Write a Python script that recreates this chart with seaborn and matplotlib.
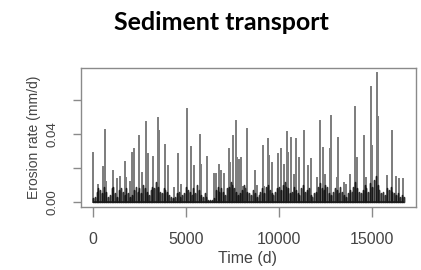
import pandas as pd
import matplotlib
matplotlib.use("Agg")
import matplotlib.pyplot as plt
import seaborn as sns

# main erosion events: (time in days, erosion rate in mm/d)
event_days = [0, 300, 537, 660, 720, 1060, 1320, 1466, 1700, 1760,
              2000, 2094, 2218, 2503, 2660, 2846, 2980, 3254, 3490, 3560,
              3882, 4060, 4340, 4564, 4740, 5047, 5262, 5440, 5762, 5800,
              6120, 6514, 6600, 6766, 6900, 7020, 7337, 7380, 7552, 7680,
              7720, 7874, 7980, 8050, 8270, 8300, 8715, 8800, 9129, 9220,
              9430, 9460, 9645, 9967, 10110, 10280, 10450, 10470, 10650, 10800,
              10917, 11080, 11364, 11550, 11707, 12020, 12206, 12340, 12450, 12760,
              12780, 13100, 13190, 13500, 13600, 13820, 14085, 14210, 14570, 14650,
              14945, 15010, 15283, 15320, 15790, 16060, 16100, 16270, 16465, 16650]
event_rates = [0.029, 0.0098, 0.0208, 0.0424, 0.012, 0.018, 0.0133, 0.0145, 0.0235, 0.014,
               0.012, 0.029, 0.0314, 0.0388, 0.017, 0.0473, 0.028, 0.0267, 0.0496, 0.042,
               0.0337, 0.021, 0.008, 0.028, 0.010, 0.0549, 0.0326, 0.021, 0.0398, 0.022,
               0.0267, 0.0163, 0.0165, 0.0216, 0.018, 0.0165, 0.031, 0.023, 0.0388, 0.0476,
               0.026, 0.025, 0.026, 0.009, 0.043, 0.035, 0.018, 0.0095, 0.0333, 0.009,
               0.0373, 0.027, 0.023, 0.0285, 0.0314, 0.022, 0.0412, 0.029, 0.0379, 0.016,
               0.0369, 0.026, 0.0418, 0.021, 0.0255, 0.014, 0.0476, 0.032, 0.016, 0.031,
               0.0506, 0.014, 0.0379, 0.011, 0.010, 0.0157, 0.0559, 0.026, 0.0388, 0.014,
               0.0682, 0.033, 0.0761, 0.050, 0.0155, 0.0418, 0.026, 0.0145, 0.0135, 0.0133]

# background erosion, one reading every 100 days (x 0.001 mm/d)
band_step = 100
band_levels = [2, 3, 6, 8, 7, 5, 9, 6, 3, 4,
               8, 9, 5, 3, 7, 8, 6, 4, 8, 5,
               3, 4, 7, 9, 6, 8, 5, 10, 8, 6,
               4, 7, 9, 8, 12, 9, 6, 5, 8, 7,
               6, 4, 3, 2, 3, 5, 6, 3, 4, 5,
               9, 7, 6, 4, 8, 5, 10, 7, 4, 3,
               5, 3, 1, 1, 1, 2, 7, 9, 6, 8,
               6, 4, 8, 9, 12, 10, 8, 6, 4, 5,
               7, 10, 8, 6, 5, 4, 7, 5, 3, 4,
               6, 8, 5, 9, 10, 7, 5, 4, 6, 8,
               9, 7, 10, 12, 9, 8, 5, 6, 9, 7,
               5, 4, 8, 10, 6, 7, 8, 4, 3, 5,
               6, 9, 11, 8, 7, 10, 9, 5, 4, 6,
               8, 7, 5, 9, 6, 4, 3, 5, 7, 6,
               9, 12, 8, 6, 5, 7, 10, 8, 6, 11,
               9, 13, 15, 10, 7, 5, 6, 4, 8, 7,
               9, 6, 5, 4, 5, 3, 4, 3]


def spikes(days, rates):
    # each reading drawn as a spike rising from zero, like a daily hydrograph
    rows = []
    for d, r in zip(days, rates):
        rows += [(d, 0.0), (d, r), (d, 0.0)]
    return pd.DataFrame(rows, columns=["time", "rate"])


events = spikes(event_days, event_rates)
band = spikes([i * band_step for i in range(len(band_levels))],
              [v * 0.001 for v in band_levels])

sns.set_style("white")
plt.rcParams["font.family"] = ["Liberation Sans", "DejaVu Sans"]

fig = plt.figure(figsize=(4.21, 2.70), dpi=100)
ax = fig.add_axes([80.5 / 421, 1 - 207 / 270, 335 / 421, 139 / 270])

sns.lineplot(data=band, x="time", y="rate", ax=ax, color="black",
             lw=1.0, alpha=0.8, estimator=None, sort=False)
sns.lineplot(data=events, x="time", y="rate", ax=ax, color="black",
             lw=1.2, alpha=0.5, estimator=None, sort=False)

xmax = 16670
ymax = 0.0761
ax.set_xlim(-0.04 * xmax, 1.04 * xmax)
ax.set_ylim(-0.04 * ymax, 1.04 * ymax)

ax.set_xticks([0, 5000, 10000, 15000])
ax.set_yticks([0, 0.02, 0.04, 0.06])
ax.set_yticklabels(["0.00", "", "0.04", ""], rotation=90, va="center")

for s in ax.spines.values():
    s.set_color("#8a8a8a")
    s.set_linewidth(1.0)
ax.tick_params(axis="both", direction="out", color="#8a8a8a", width=1.0,
               labelcolor="#444444", bottom=True, left=True)
ax.tick_params(axis="x", length=7.2, pad=10.5, labelsize=11.5)
ax.tick_params(axis="y", length=6, pad=10, labelsize=9.5)

ax.set_xlabel("Time (d)", fontsize=11.5, color="#444444", labelpad=3)
ax.set_ylabel("Erosion rate (mm/d)", fontsize=10, color="#444444", labelpad=4)

fig.text(221 / 421, 1 - 22 / 270, "Sediment transport", ha="center", va="center",
         fontsize=18, fontweight="bold", family="Lato", color="black")

plt.savefig("out.png", dpi=100)
